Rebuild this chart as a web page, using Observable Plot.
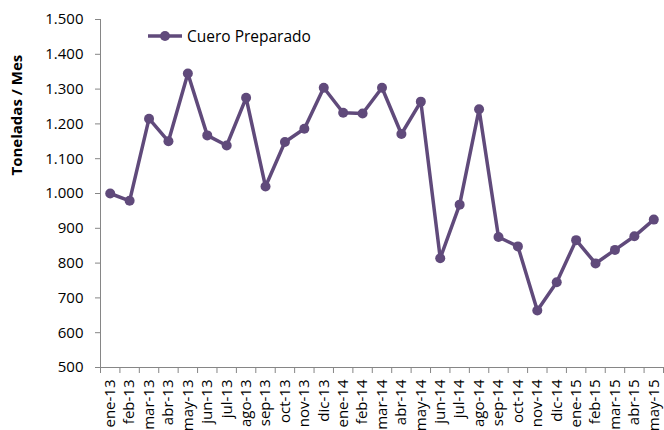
<!DOCTYPE html>
<html><head><meta charset="utf-8">
<script src="https://cdn.jsdelivr.net/npm/d3@7"></script>
<script src="https://cdn.jsdelivr.net/npm/@observablehq/plot@0.6"></script>
<style>
body{margin:0;background:#fff;font-family:"Open Sans",sans-serif}
#wrap{position:relative;width:664px;height:430px;overflow:hidden}
#legend{position:absolute;left:147px;top:26px;display:flex;align-items:center;font-size:15.5px;color:#000;line-height:20px}
#legend svg{margin-right:4px}
</style></head><body><div id="wrap"></div>
<script>
const months = ["ene-13","feb-13","mar-13","abr-13","may-13","jun-13","jul-13","ago-13","sep-13","oct-13","nov-13","dic-13",
  "ene-14","feb-14","mar-14","abr-14","may-14","jun-14","jul-14","ago-14","sep-14","oct-14","nov-14","dic-14",
  "ene-15","feb-15","mar-15","abr-15","may-15"];
const values = [1000, 979, 1215, 1150, 1345, 1167, 1138, 1275, 1020, 1148, 1186, 1304,
  1232, 1230, 1304, 1171, 1264, 814, 968, 1242, 875, 848, 664, 745,
  866, 799, 838, 877, 925];
const yTicks = [500, 600, 700, 800, 900, 1000, 1100, 1200, 1300, 1400, 1500];
const seriesName = "Cuero Preparado";
const yTitle = "Toneladas / Mes";

const color = "#604A7B";
const axisColor = "#868686";
const data = months.map((m, i) => ({i, m, v: values[i]}));
const locale = d3.formatLocale({decimal: ",", thousands: ".", grouping: [3], currency: ["", ""]});
const fmt = locale.format(",");

const chart = Plot.plot({
  width: 664, height: 430,
  marginLeft: 100, marginRight: 1, marginTop: 19, marginBottom: 63,
  x: {type: "linear", domain: [-0.5, months.length - 0.5]},
  y: {domain: [500, 1500]},
  style: {fontFamily: "Open Sans", fontSize: "15px", color: "#000", background: "#fff"},
  marks: [
    Plot.axisY({ticks: yTicks, tickFormat: fmt, tickSize: 5, tickPadding: 12, stroke: axisColor, fill: "#000", label: null, fontSize: 15}),
    Plot.axisX({ticks: d3.range(-0.5, months.length), tickSize: 6, tickFormat: () => "", stroke: axisColor, label: null}),
    Plot.axisX({ticks: d3.range(months.length), tickSize: 0, tickPadding: 12, tickRotate: -90, tickFormat: i => months[i], fill: "#000", label: null, fontSize: 15}),
    Plot.ruleX([-0.5], {stroke: axisColor}),
    Plot.ruleY([500], {stroke: axisColor}),
    Plot.text([yTitle], {frameAnchor: "left", dx: -83, dy: -18, rotate: -90, fontWeight: "bold", fontSize: 15, fill: "#000"}),
    Plot.line(data, {x: "i", y: "v", stroke: color, strokeWidth: 3.5}),
    Plot.dot(data, {x: "i", y: "v", fill: color, r: 5})
  ]
});
const wrap = document.getElementById("wrap");
wrap.appendChild(chart);
const lg = document.createElement("div");
lg.id = "legend";
lg.innerHTML = `<svg width="36" height="12"><line x1="1" y1="6" x2="35" y2="6" stroke="${color}" stroke-width="3.5"/><circle cx="18" cy="6" r="5" fill="${color}"/></svg><span></span>`;
lg.querySelector("span").textContent = seriesName;
wrap.appendChild(lg);
</script>
</body></html>
